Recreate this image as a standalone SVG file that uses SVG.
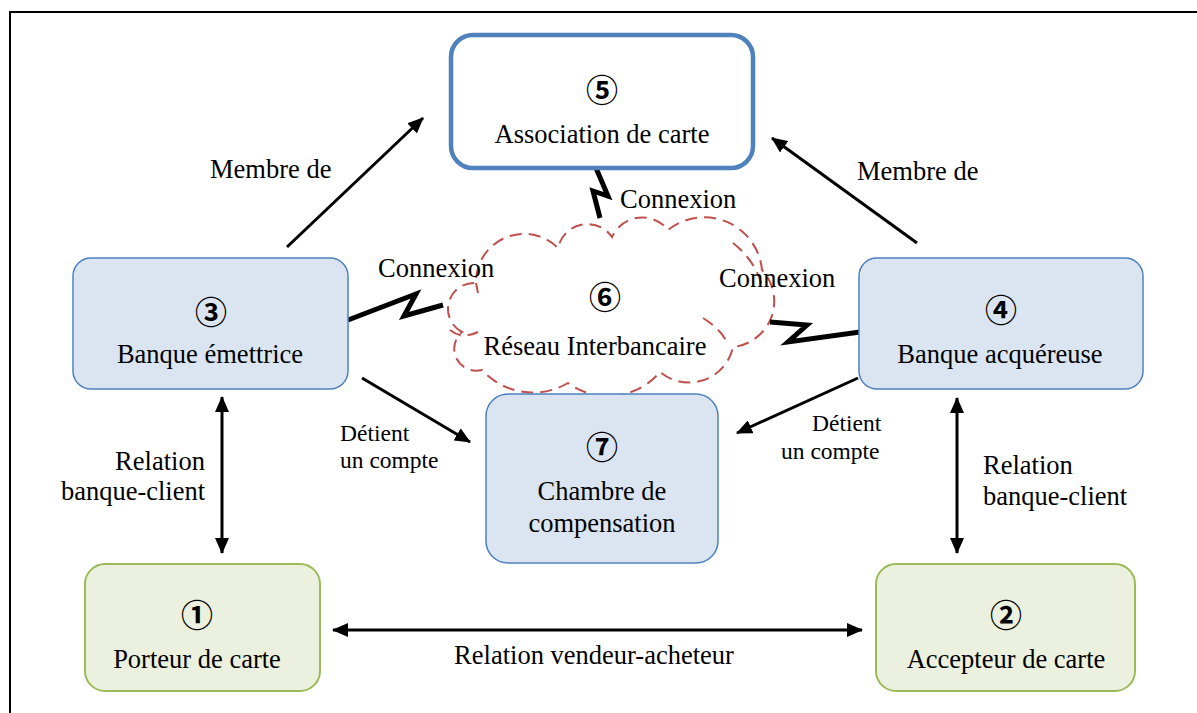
<svg xmlns="http://www.w3.org/2000/svg" width="1197" height="713" viewBox="0 0 1197 713">
  <defs>
    <marker id="arrow" viewBox="0 0 16 14" refX="15" refY="7" markerWidth="16" markerHeight="14" markerUnits="userSpaceOnUse" orient="auto-start-reverse">
      <path d="M0,0 L16,7 L0,14 Z" fill="#000"/>
    </marker>
    <style>
      .lbl { font-family: "Liberation Serif", "Times New Roman", serif; font-size: 26.5px; fill: #000; }
      .sm { font-family: "Liberation Serif", "Times New Roman", serif; font-size: 23.5px; fill: #000; }
      .num { font-family: "Noto Sans CJK JP", "DejaVu Sans", sans-serif; font-size: 32px; font-weight: bold; fill: #000; }
      .blue { fill: #DBE5F1; stroke: #4F81BD; stroke-width: 1.5; }
      .green { fill: #EBF1DE; stroke: #9BBB59; stroke-width: 2; }
      .link { stroke: #000; stroke-width: 3; fill: none; }
      .bolt { stroke: #000; stroke-width: 5; fill: none; stroke-linejoin: miter; }
      .cloud { fill: #fff; stroke: #C0504D; stroke-width: 2; stroke-dasharray: 12 7; }
      .cloudin { fill: none; stroke: #C0504D; stroke-width: 2; stroke-dasharray: 12 7; }
    </style>
  </defs>

  <rect x="0" y="0" width="1197" height="713" fill="#fff"/>
  <!-- frame -->
  <rect x="10" y="12" width="1200" height="720" fill="none" stroke="#000" stroke-width="2"/>

  <!-- interbank network cloud -->
  <g id="reseau">
    <path class="cloud" d="M462,332 A26,26 0 0 1 476,283 A48,48 0 0 1 558,248 A30,30 0 0 1 612,237 A33,33 0 0 1 668,230 A58,58 0 0 1 762,270 A46,46 0 0 1 733,347 A45,45 0 0 1 660,372 A68,68 0 0 1 568,383 A69,69 0 0 1 482,370 A22,22 0 0 1 462,332 Z"/>
    <path class="cloudin" d="M476,283 Q477,288 478,293"/>
    <path class="cloudin" d="M733,243 Q757,262 763,290"/>
    <path class="cloudin" d="M703,318 Q722,330 727,343"/>
    <path class="cloudin" d="M450,330 Q462,340 478,332"/>
    <text class="num" x="605" y="309" text-anchor="middle">⑥</text>
    <text class="lbl" x="595" y="355" text-anchor="middle">Réseau Interbancaire</text>
  </g>

  <!-- connectors -->
  <g id="connectors">
    <line class="link" x1="287" y1="247" x2="423" y2="118" marker-end="url(#arrow)"/>
    <line class="link" x1="917" y1="243" x2="772" y2="138" marker-end="url(#arrow)"/>
    <line class="link" x1="362" y1="378" x2="470" y2="442" marker-end="url(#arrow)"/>
    <line class="link" x1="858" y1="378" x2="737" y2="433" marker-end="url(#arrow)"/>
    <line class="link" x1="222" y1="397" x2="222" y2="553" marker-start="url(#arrow)" marker-end="url(#arrow)"/>
    <line class="link" x1="957" y1="398" x2="957" y2="553" marker-start="url(#arrow)" marker-end="url(#arrow)"/>
    <line class="link" x1="333" y1="630" x2="862" y2="630" marker-start="url(#arrow)" marker-end="url(#arrow)"/>

    <polyline class="bolt" points="596,168 608,196 593,191 600,218"/>
    <polyline class="bolt" points="348,320 416,294 404,316 443,305"/>
    <polyline class="bolt" points="770,322 807,325 788,342 860,332"/>

    <text class="lbl" x="210" y="178">Membre de</text>
    <text class="lbl" x="857" y="180">Membre de</text>
    <text class="lbl" x="620" y="208">Connexion</text>
    <text class="lbl" x="378" y="277">Connexion</text>
    <text class="lbl" x="719" y="287">Connexion</text>
    <text class="sm" x="340" y="441">Détient</text>
    <text class="sm" x="340" y="468">un compte</text>
    <text class="sm" x="812" y="431">Détient</text>
    <text class="sm" x="781" y="459">un compte</text>
    <text class="lbl" x="160" y="470" text-anchor="middle">Relation</text>
    <text class="lbl" x="133" y="500" text-anchor="middle">banque-client</text>
    <text class="lbl" x="983" y="474">Relation</text>
    <text class="lbl" x="983" y="505">banque-client</text>
    <text class="lbl" x="594" y="664" text-anchor="middle">Relation vendeur-acheteur</text>
  </g>

  <g id="association">
    <rect x="451" y="35" width="302" height="133" rx="22" fill="#fff" stroke="#4F81BD" stroke-width="4.5"/>
    <text class="num" x="602" y="102" text-anchor="middle">⑤</text>
    <text class="lbl" x="602" y="143" text-anchor="middle">Association de carte</text>
  </g>

  <g id="banque-emettrice">
    <rect class="blue" x="73" y="258" width="275" height="131" rx="18"/>
    <text class="num" x="211" y="324" text-anchor="middle">③</text>
    <text class="lbl" x="210" y="363" text-anchor="middle">Banque émettrice</text>
  </g>

  <g id="banque-acquereuse">
    <rect class="blue" x="859" y="258" width="284" height="131" rx="18"/>
    <text class="num" x="1001" y="322" text-anchor="middle">④</text>
    <text class="lbl" x="1000" y="363" text-anchor="middle">Banque acquéreuse</text>
  </g>

  <g id="chambre">
    <rect class="blue" x="486" y="394" width="232" height="169" rx="22"/>
    <text class="num" x="602" y="459" text-anchor="middle">⑦</text>
    <text class="lbl" x="602" y="500" text-anchor="middle">Chambre de</text>
    <text class="lbl" x="602" y="532" text-anchor="middle">compensation</text>
  </g>

  <g id="porteur">
    <rect class="green" x="85" y="564" width="235" height="127" rx="20"/>
    <text class="num" x="197" y="627" text-anchor="middle">①</text>
    <text class="lbl" x="197" y="668" text-anchor="middle">Porteur de carte</text>
  </g>

  <g id="accepteur">
    <rect class="green" x="876" y="564" width="259" height="127" rx="20"/>
    <text class="num" x="1006" y="627" text-anchor="middle">②</text>
    <text class="lbl" x="1006" y="668" text-anchor="middle">Accepteur de carte</text>
  </g>
</svg>
